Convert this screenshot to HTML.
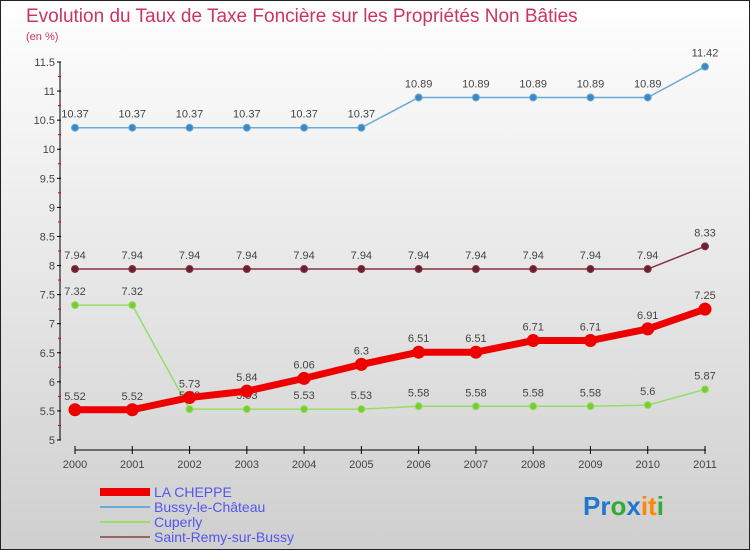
<!DOCTYPE html>
<html><head><meta charset="utf-8"><style>
body{margin:0}
#c{width:750px;height:550px;position:relative;overflow:hidden}
text{font-family:"Liberation Sans",sans-serif}
</style></head><body>
<div id="c">
<svg id="s" width="750" height="550" xmlns="http://www.w3.org/2000/svg">
<defs><linearGradient id="bg" x1="0" y1="0" x2="0" y2="1"><stop offset="0" stop-color="#ffffff"/><stop offset="1" stop-color="#cfcfcf"/></linearGradient></defs>
<rect x="0.5" y="0.5" width="749" height="549" fill="url(#bg)" stroke="#222"/>
<text x="26" y="22" font-size="19" fill="#cc3366">Evolution du Taux de Taxe Foncière sur les Propriétés Non Bâties</text>
<text x="26" y="40" font-size="11" fill="#cc3366">(en %)</text>
<g id="axes"></g><g id="series"></g>
<g>
<rect x="100" y="488" width="50" height="8" fill="#ee0000"/>
<text x="154" y="497" font-size="14" fill="#5555ee">LA CHEPPE</text>
<line x1="100" y1="507" x2="150" y2="507" stroke="#6aaad6" stroke-width="2"/>
<text x="154" y="512" font-size="14" fill="#5555ee">Bussy-le-Château</text>
<line x1="100" y1="522" x2="150" y2="522" stroke="#99dd66" stroke-width="2"/>
<text x="154" y="527" font-size="14" fill="#5555ee">Cuperly</text>
<line x1="100" y1="537" x2="150" y2="537" stroke="#996666" stroke-width="2"/>
<text x="154" y="542" font-size="14" fill="#5555ee">Saint-Remy-sur-Bussy</text>
</g>
<text x="583" y="515" font-size="26" font-weight="bold"><tspan fill="#2277cc">Pr</tspan><tspan fill="#33aa33">o</tspan><tspan fill="#2277cc">x</tspan><tspan fill="#ff8800">it</tspan><tspan fill="#33aa33">i</tspan></text>
</svg></div>
<script>
const years=["2000","2001","2002","2003","2004","2005","2006","2007","2008","2009","2010","2011"];
const yTicks=[5,5.5,6,6.5,7,7.5,8,8.5,9,9.5,10,10.5,11,11.5];
const laCheppe=[5.52,5.52,5.73,5.84,6.06,6.3,6.51,6.51,6.71,6.71,6.91,7.25];
const bussy=[10.37,10.37,10.37,10.37,10.37,10.37,10.89,10.89,10.89,10.89,10.89,11.42];
const cuperly=[7.32,7.32,5.53,5.53,5.53,5.53,5.58,5.58,5.58,5.58,5.6,5.87];
const saintRemy=[7.94,7.94,7.94,7.94,7.94,7.94,7.94,7.94,7.94,7.94,7.94,8.33];
const NS="http://www.w3.org/2000/svg";
const xS=i=>75+i*(630/(years.length-1));
const yS=v=>440-(v-5)*(378/6.5);
function mk(p,t,a){const e=document.createElementNS(NS,t);for(const k in a)e.setAttribute(k,a[k]);p.appendChild(e);return e;}
const ax=document.getElementById('axes');
const ya=mk(ax,'line',{x1:60,y1:yS(11.5),x2:60,y2:yS(5),stroke:'#000','stroke-width':1});


yTicks.forEach(v=>{
 mk(ax,'line',{x1:57,y1:yS(v),x2:61,y2:yS(v),stroke:'#000'});
 if(v<11.5)mk(ax,'line',{x1:58,y1:yS(v+0.25),x2:61,y2:yS(v+0.25),stroke:'#dd0000'});
 const t=mk(ax,'text',{x:55,y:yS(v)+4,'font-size':11,fill:'#444','text-anchor':'end'});
 t.textContent=String(v);
 
 
});
const xa=mk(ax,'line',{x1:75,y1:450,x2:706,y2:450,stroke:'#000'});


years.forEach((y,i)=>{
 mk(ax,'line',{x1:xS(i),y1:446,x2:xS(i),y2:454,stroke:'#000'});
 const t=mk(ax,'text',{x:xS(i),y:468,'font-size':11,fill:'#444','text-anchor':'middle'});
 t.textContent=y;
 
 
});
const sg=document.getElementById('series');
function draw(vals,name,col,dot,w,r,lblCol){
 const g=mk(sg,'g',{});
 
 
 mk(g,'polyline',{points:vals.map((v,i)=>xS(i)+','+yS(v)).join(' '),fill:'none',stroke:col,'stroke-width':w,'stroke-linejoin':'round'});
 vals.forEach((v,i)=>{
  const c=mk(g,'circle',{cx:xS(i),cy:yS(v),r:r,fill:dot,stroke:col,'stroke-width':1});
  
  
  const t=mk(g,'text',{x:xS(i),y:yS(v)-10,'font-size':11,fill:'#444','text-anchor':'middle'});
  t.textContent=String(v);
  
  
 });
}
draw(bussy,'bussy-series','#6aaad6','#3d88c4',1.5,3.5);
draw(saintRemy,'saint-remy-series','#883344','#662233',1.5,3.5);
draw(cuperly,'cuperly-series','#99dd66','#77cc33',1.5,3.5);
draw(laCheppe,'la-cheppe-series','#ee0000','#ee0000',7,6);
</script>
</body></html>
